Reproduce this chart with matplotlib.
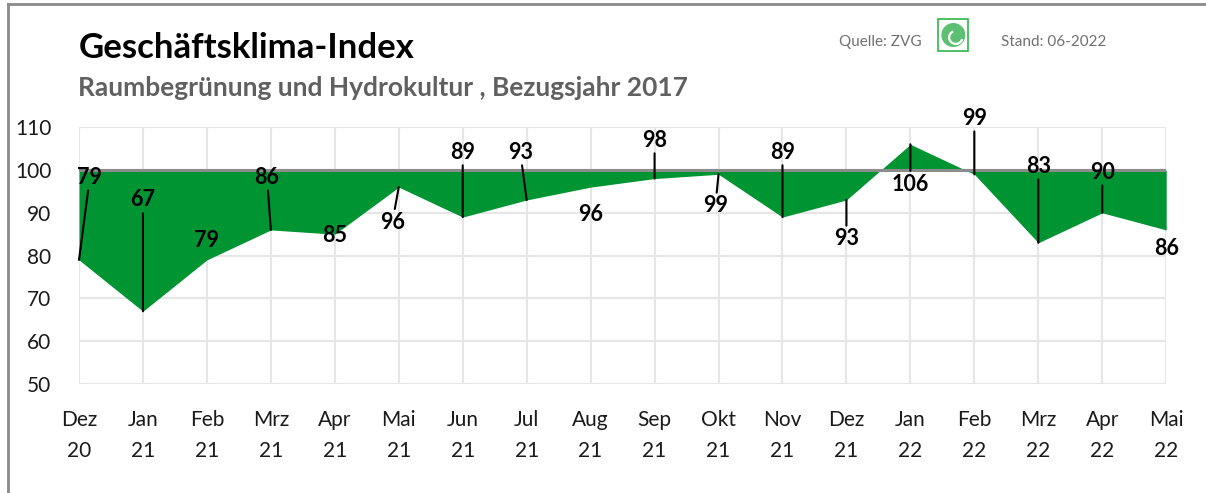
import matplotlib.pyplot as plt
from matplotlib.lines import Line2D
from matplotlib.patches import Rectangle, Ellipse, Arc

months = ["Dez", "Jan", "Feb", "Mrz", "Apr", "Mai", "Jun", "Jul", "Aug",
          "Sep", "Okt", "Nov", "Dez", "Jan", "Feb", "Mrz", "Apr", "Mai"]
years = ["20", "21", "21", "21", "21", "21", "21", "21", "21",
         "21", "21", "21", "21", "22", "22", "22", "22", "22"]
index_values = [79, 67, 79, 86, 85, 96, 89, 93, 96, 98, 99, 89, 93, 106, 99, 83, 90, 86]
base_value = 100

# label placement (x shift in months, y in index units) and leader line flags
label_dx = [0.17, 0, 0, -0.06, 0, -0.1, 0, -0.1, 0, 0, -0.05, 0, 0, 0, 0, 0, 0, 0]
label_y = [98.3, 93.0, 83.6, 98.3, 84.6, 87.8, 104.2, 104.2, 89.7, 107.0,
           91.6, 104.2, 83.9, 96.7, 112.1, 100.9, 99.5, 81.7]
leader = [True, True, False, True, False, True, True, True, False, True,
          True, True, True, True, True, True, True, False]

GREEN = "#009432"
plt.rcParams["font.family"] = ["Lato", "DejaVu Sans"]

fig = plt.figure(figsize=(12.06, 4.93), dpi=100)
ax = fig.add_axes([0.0655, 0.221, 0.9015, 0.521])

x = list(range(len(index_values)))
ax.fill_between(x, index_values, base_value, color=GREEN, linewidth=0, zorder=2)
ax.axhline(base_value, color="#8c8c8c", linewidth=2.2, zorder=3)

for i, v in enumerate(index_values):
    lx, ly = i + label_dx[i], label_y[i]
    props = dict(arrowstyle="-", color="black", lw=1.5, shrinkA=0, shrinkB=0) if leader[i] else None
    ax.annotate(str(v), xy=(i, v), xytext=(lx, ly), ha="center", va="center",
                fontsize=15.5, fontweight="bold", color="black",
                arrowprops=props, zorder=5, annotation_clip=False)

ax.set_xlim(0, len(index_values) - 1)
ax.set_ylim(50, 110)
ax.set_yticks(range(50, 111, 10))
ax.set_xticks(x)
ax.set_xticklabels([f"{m}\n{y}" for m, y in zip(months, years)], linespacing=1.65)
ax.tick_params(axis="both", length=0, labelsize=15, colors="#1a1a1a")
ax.tick_params(axis="x", pad=19)
ax.tick_params(axis="y", pad=20)
ax.grid(True, color="#e6e6e6", linewidth=1.5, zorder=0)
ax.set_axisbelow(True)
for s in ax.spines.values():
    s.set_visible(False)

fig.text(0.065, 0.902, "Geschäftsklima-Index", fontsize=25, fontweight="bold",
         color="black", va="center")
fig.text(0.065, 0.822, "Raumbegrünung und Hydrokultur , Bezugsjahr 2017", fontsize=19,
         fontweight="bold", color="#606060", va="center")
fig.text(0.696, 0.915, "Quelle: ZVG", fontsize=11, color="#707070", va="center")
fig.text(0.830, 0.915, "Stand: 06-2022", fontsize=11, color="#707070", va="center")

# logo
fig.patches.append(Rectangle((0.778, 0.897), 0.025, 0.065, transform=fig.transFigure,
                             facecolor="white", edgecolor="#2db84a", linewidth=1.2))
fig.patches.append(Ellipse((0.7905, 0.929), 0.0199, 0.0487, transform=fig.transFigure,
                           facecolor="#5cbf72", edgecolor="none"))
fig.patches.append(Arc((0.7925, 0.924), 0.011, 0.026, theta1=100, theta2=330,
                       transform=fig.transFigure, color="white", linewidth=1.6))

# frame
fig.add_artist(Line2D([0.0066, 1.0], [0.992, 0.992], color="#8a8a8a", linewidth=2))
fig.add_artist(Line2D([0.0066, 0.0066], [0.0, 0.992], color="#8a8a8a", linewidth=2))

fig.savefig("out.png", dpi=100)
